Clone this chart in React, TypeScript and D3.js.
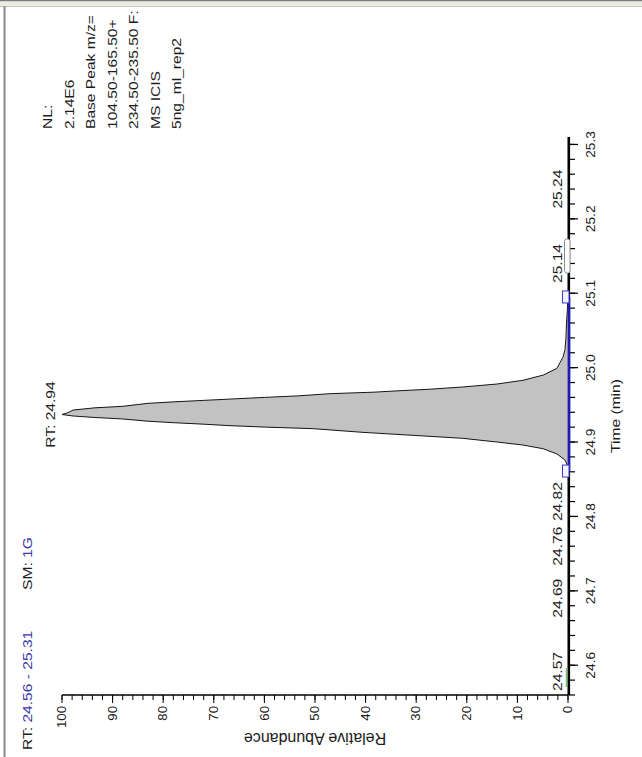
import React from 'react';
import * as d3 from 'd3';

const W = 642;
const H = 757;

// Chromatogram trace: retention time (min) and relative abundance (%)
const traceTime = [
  24.56, 24.6, 24.7, 24.8, 24.86, 24.87, 24.876, 24.884, 24.891, 24.896, 24.9,
  24.905, 24.909, 24.913, 24.918, 24.92, 24.922, 24.924, 24.926, 24.928, 24.931,
  24.933, 24.935, 24.937, 24.939, 24.943, 24.946, 24.948, 24.952, 24.954, 24.956,
  24.958, 24.96, 24.962, 24.965, 24.967, 24.969, 24.971, 24.974, 24.978, 24.983,
  24.99, 24.999, 25.014, 25.024, 25.04, 25.06, 25.08, 25.1, 25.2, 25.31,
];
const traceAbundance = [
  0, 0, 0, 0, 0, 0.2, 0.6, 2.2, 4.9, 8.9, 14,
  20.8, 30.6, 40.5, 50.4, 59.5, 66.8, 72, 78, 83, 88,
  93.5, 97.8, 100, 99, 97.8, 93.5, 88, 83, 78, 72,
  66, 60, 53.5, 47, 38.5, 33.2, 27.3, 20.8, 14, 8.9,
  4.9, 2.2, 1.0, 0.6, 0.4, 0.3, 0.1, 0, 0, 0,
];

// Axis ticks
const timeTicks = [24.6, 24.7, 24.8, 24.9, 25.0, 25.1, 25.2, 25.3];
const abundanceTicks = [0, 10, 20, 30, 40, 50, 60, 70, 80, 90, 100];

// Peak annotations
const apexTime = 24.937;
const peakLabelTimes = [24.57, 24.69, 24.76, 24.82, 25.14, 25.24];
const integrationBounds = [24.861, 25.095];
const minorPeakSpan = [24.571, 24.596];
const markerPeakSpan = [25.127, 25.173];

// Info block
const infoLines = [
  'NL:',
  '2.14E6',
  'Base Peak m/z=',
  '104.50-165.50+',
  '234.50-235.50 F:',
  'MS ICIS',
  '5ng_ml_rep2',
];

const textColor = '#1c1c1c';
const blueText = '#3838a8';
const SX = 1.2; // horizontal text stretch of the instrument font

type TProps = {
  x: number;
  y: number;
  size: number;
  anchor?: 'start' | 'middle' | 'end';
  sx?: number;
  dy?: string;
  fill?: string;
  children?: React.ReactNode;
};

function T({ x, y, size, anchor = 'start', sx = SX, dy, fill = textColor, children }: TProps) {
  return (
    <text
      transform={`translate(${x},${y}) scale(${sx},1)`}
      fontSize={size}
      textAnchor={anchor}
      dy={dy}
      fill={fill}
    >
      {children}
    </text>
  );
}

export default function App() {
  // Drawn in an upright frame (u along time, v along abundance) and turned a quarter turn.
  const x = d3.scaleLinear().domain([24.56, 25.31]).range([62, 620]);
  const y = d3.scaleLinear().domain([0, 100]).range([568, 62]);
  const axisV = 569;
  const axisU = 62;

  const pts = traceTime.map((t, i) => [t, traceAbundance[i]] as [number, number]);
  const area = d3
    .area<[number, number]>()
    .x((d) => x(d[0]))
    .y0(y(0))
    .y1((d) => y(d[1]));
  const line = d3
    .line<[number, number]>()
    .x((d) => x(d[0]))
    .y((d) => y(d[1]));

  const timeMinor = d3.range(1228, 1266).map((k) => k / 50);
  const abundMinor = d3.range(0, 101, 2);

  const labelHalf = (s: string) => s.length * 13 * SX * 0.5 * 0.5;

  return (
    <svg
      width={W}
      height={H}
      style={{ position: 'absolute', left: 0, top: 0, background: '#fff' }}
      fontFamily="'Liberation Sans', Arial, sans-serif"
    >
      <rect width={W} height={H} fill="#fff" />
      {/* window frame */}
      <rect x={0} y={0} width={W} height={1.5} fill="#7c7c7c" />
      <rect x={0} y={1.5} width={W} height={4.5} fill="#ecebe3" />
      <line x1={0} x2={W} y1={6.5} y2={6.5} stroke="#c9c9c0" />
      <line x1={4.5} x2={4.5} y1={6} y2={H} stroke="#8a8a8a" strokeWidth={2} />

      <g transform={`translate(0,${H}) rotate(-90)`}>
        {/* peak */}
        <path d={area(pts) || ''} fill="#c2c2c2" />
        <path d={line(pts) || ''} fill="none" stroke="#151515" strokeWidth={1} />

        {/* time axis */}
        <line x1={x(24.56)} x2={x(25.31)} y1={axisV} y2={axisV} stroke="#000" strokeWidth={2.2} />
        {timeMinor.map((t) => (
          <line key={'tm' + t} x1={x(t)} x2={x(t)} y1={axisV} y2={axisV + 6} stroke="#000" strokeWidth={1.2} />
        ))}
        {timeTicks.map((t) => (
          <g key={'tt' + t}>
            <line x1={x(t)} x2={x(t)} y1={axisV} y2={axisV + 9} stroke="#000" strokeWidth={1.2} />
            <T x={x(t)} y={595} size={12} sx={1.15} anchor="middle">
              {t.toFixed(1)}
            </T>
          </g>
        ))}
        <T x={(x(24.56) + x(25.31)) / 2} y={620} size={13} anchor="middle">
          Time (min)
        </T>

        {/* abundance axis */}
        <line x1={axisU} x2={axisU} y1={y(0)} y2={y(100)} stroke="#000" strokeWidth={1.6} />
        {abundMinor.map((a) => (
          <line key={'am' + a} x1={axisU} x2={axisU - 5} y1={y(a)} y2={y(a)} stroke="#000" strokeWidth={1} />
        ))}
        {abundanceTicks.map((a) => (
          <g key={'at' + a}>
            <line x1={axisU} x2={axisU - 8} y1={y(a)} y2={y(a)} stroke="#000" strokeWidth={1} />
            <T x={axisU - 11} y={y(a)} dy="0.35em" size={12} sx={1.1} anchor="end">
              {a}
            </T>
          </g>
        ))}
        <text
          transform={`translate(24,${(y(0) + y(100)) / 2}) rotate(-90)`}
          fontSize={16}
          textAnchor="middle"
          fill={textColor}
        >
          Relative Abundance
        </text>

        {/* integration baseline and boundary markers */}
        <line
          x1={x(integrationBounds[0])}
          x2={x(integrationBounds[1])}
          y1={axisV}
          y2={axisV}
          stroke="#1c1cb4"
          strokeWidth={2.6}
        />
        {integrationBounds.map((t) => (
          <rect
            key={'ib' + t}
            x={x(t) - 6}
            y={562.5}
            width={12}
            height={6.5}
            fill="#f4f4ff"
            stroke="#3a3ad0"
            strokeWidth={1}
          />
        ))}
        <line
          x1={x(minorPeakSpan[0])}
          x2={x(minorPeakSpan[1])}
          y1={566.5}
          y2={566.5}
          stroke="#72c472"
          strokeWidth={1.5}
        />
        <rect
          x={x(markerPeakSpan[0])}
          y={564.5}
          width={x(markerPeakSpan[1]) - x(markerPeakSpan[0])}
          height={5.5}
          rx={2.5}
          fill="#fff"
          stroke="#8c8c8c"
          strokeWidth={1}
        />

        {/* peak labels */}
        <T x={x(apexTime)} y={55} size={13} anchor="middle">
          {'RT: ' + apexTime.toFixed(2)}
        </T>
        {peakLabelTimes.map((t) => {
          const s = t.toFixed(2);
          const cx = Math.max(x(t), axisU + labelHalf(s) + 4);
          return (
            <T key={'pl' + t} x={cx} y={562} size={13} anchor="middle">
              {s}
            </T>
          );
        })}

        {/* header */}
        <T x={7} y={32} size={13}>
          <tspan>RT: </tspan>
          <tspan fill={blueText}>24.56 - 25.31</tspan>
        </T>
        <T x={167} y={32} size={13}>
          <tspan>SM: </tspan>
          <tspan fill={blueText}>1G</tspan>
        </T>

        {/* info block */}
        {infoLines.map((s, i) => (
          <T key={'nl' + i} x={628} y={52 + i * 21.5} size={13}>
            {s}
          </T>
        ))}
      </g>
    </svg>
  );
}
